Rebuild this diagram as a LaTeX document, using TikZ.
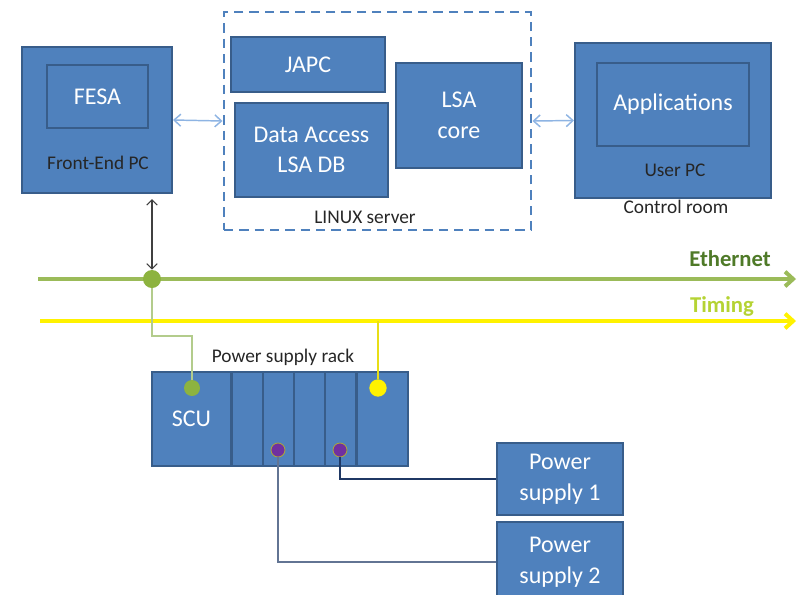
\documentclass[tikz,border=0pt]{standalone}
\usepackage{fontspec}
\setmainfont{Carlito}
\usepackage{xcolor}
\usepackage{tikz}
\usetikzlibrary{arrows.meta,backgrounds}

\definecolor{boxfill}{HTML}{4F81BD}
\definecolor{boxline}{HTML}{385D8A}
\definecolor{linkblue}{HTML}{8EB4E3}
\definecolor{ethgreen}{HTML}{9BBB59}
\definecolor{ethtext}{HTML}{4F7A28}
\definecolor{dotgreen}{HTML}{8DB33F}
\definecolor{wiregreen}{HTML}{B3CC8C}
\definecolor{timtext}{HTML}{B5D334}
\definecolor{psnavy}{HTML}{1F3864}
\definecolor{dotpurple}{HTML}{7030A0}

\begin{document}
\begin{tikzpicture}[x=0.75pt, y=-0.75pt,
    blk/.style={draw=boxline, line width=1.5pt, rectangle, fill=boxfill, text=white,
        font=\fontsize{18}{23}\selectfont, align=center, inner sep=0pt},
    lbl/.style={font=\fontsize{14.5}{17}\selectfont, text=black!85},
    busdot/.style={circle, inner sep=0pt, minimum size=#1},
    link/.style={linkblue, line width=1.1pt, {Straight Barb[length=5pt,width=9pt]}-{Straight Barb[length=5pt,width=9pt]}}]
    \useasboundingbox (0,0) rectangle (798,594);

    % computers
    \node[blk, minimum width=112.5pt, minimum height=109.5pt] (fepc) at (97,120) {};
    \node[blk, minimum width=75.75pt, minimum height=47.25pt] (fesa) at (97.5,96.5) {FESA};
    \node[lbl] (fepclbl) at (98,163) {Front-End PC};

    \node[draw=boxfill, line width=2.2pt, dash pattern=on 7pt off 4.5pt, rectangle,
        minimum width=230.25pt, minimum height=163.5pt, inner sep=0pt] (linux) at (377.5,121) {};
    \node[lbl] (linuxlbl) at (365,217) {LINUX server};
    \node[blk, minimum width=115.5pt, minimum height=41.25pt] (japc) at (308,64.5) {JAPC};
    \node[blk, minimum width=114.75pt, minimum height=70.5pt] (dataacc) at (311.5,150) {Data Access\\LSA DB};
    \node[blk, minimum width=94.5pt, minimum height=78.75pt] (lsacore) at (459,115.5) {LSA\\core};

    \node[blk, minimum width=147pt, minimum height=116.25pt] (userpc) at (673,120.5) {};
    \node[blk, minimum width=114pt, minimum height=62.25pt] (apps) at (673,104.5) {Applications};
    \node[lbl] (userpclbl) at (675,170) {User PC};
    \node[lbl] (ctrllbl) at (676,207) {Control room};

    \draw[link] (fepc.east) -- (linux.west);
    \draw[link] (linux.east) -- (userpc.west);

    % rack
    \node[lbl] (racklbl) at (283,357) {Power supply rack};
    \node[blk, minimum width=59.25pt, minimum height=70.5pt] (scu) at (191.5,419) {SCU};
    \foreach \i/\x in {2/247, 3/278, 4/309, 5/340.5}
        \node[blk, minimum width=23.25pt, minimum height=70.5pt] (slot\i) at (\x,419) {};
    \node[blk, minimum width=38.25pt, minimum height=70.5pt] (slot6) at (382.5,419) {};

    \node[blk, minimum width=94.5pt, minimum height=54pt] (ps1) at (560,479) {Power\\supply 1};
    \node[blk, minimum width=94.5pt, minimum height=60pt] (ps2) at (560,562) {Power\\supply 2};

    % buses
    \node[busdot=13.5pt, fill=dotgreen] (ethdot) at (152,279) {};
    \node[busdot=12pt, fill=dotgreen] (scudot) at (192,388) {};
    \node[busdot=13pt, fill=yellow] (timdot) at (378,388) {};
    \node[busdot=10.5pt, fill=dotpurple, draw=olive!70, line width=0.6pt] (psdota) at (278,450) {};
    \node[busdot=10.5pt, fill=dotpurple, draw=olive!70, line width=0.6pt] (psdotb) at (340,450) {};

    \coordinate (ethL) at (38,279);
    \coordinate (ethR) at (796,279);
    \coordinate (timL) at (40,321);
    \coordinate (timR) at (796,321);
    \begin{scope}[on background layer]
        \draw[ethgreen, line width=3pt, -{Straight Barb[length=6pt,width=11pt]}] (ethL) -- (ethR);
        \draw[yellow, line width=3pt, -{Straight Barb[length=6pt,width=11pt]}] (timL) -- (timR);
    \end{scope}
    \node[font=\bfseries\fontsize{17}{20}\selectfont, text=ethtext] (ethlbl) at (730,259) {Ethernet};
    \node[font=\bfseries\fontsize{17}{20}\selectfont, text=timtext] (timlbl) at (722,306) {Timing};

    \draw[black!75, line width=0.8pt, {Straight Barb[length=4pt,width=8pt]}-{Straight Barb[length=4pt,width=8pt]}]
        (fepc.south -| ethdot) ++(0,5) -- (ethdot.north);
    \draw[wiregreen, line width=1.3pt] (ethdot.south) -- ++(0,48) -| (scudot.north);
    \draw[yellow!90!black, line width=1.2pt] (timdot.north) -- (timdot |- timL);
    \draw[psnavy, line width=1pt] (psdotb.south) |- (ps1.west);
    \draw[psnavy!70, line width=1pt] (psdota.south) |- (ps2.west);
\end{tikzpicture}
\end{document}
